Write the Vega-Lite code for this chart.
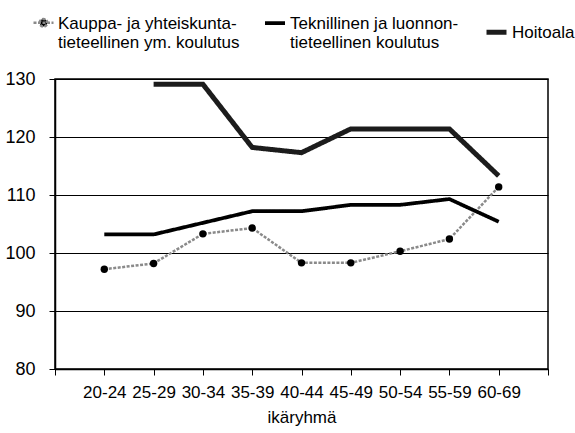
{
  "$schema": "https://vega.github.io/schema/vega-lite/v6.json",
  "width": 493,
  "height": 290,
  "autosize": {"type": "none"},
  "padding": {"left": 55, "top": 79, "right": 27, "bottom": 64},
  "background": "white",
  "config": {
    "font": "Liberation Sans",
    "view": {"stroke": "black", "strokeWidth": 1.5},
    "axis": {"domainColor": "black", "tickColor": "black", "labelColor": "black", "titleColor": "black", "labelFont": "Liberation Sans", "titleFont": "Liberation Sans"},
    "legend": {"labelFont": "Liberation Sans", "labelColor": "black"}
  },
  "data": {
    "values": [
      {"series": "Kauppa- ja yhteiskuntatieteellinen ym. koulutus", "age": "20-24", "value": 97.2},
      {"series": "Kauppa- ja yhteiskuntatieteellinen ym. koulutus", "age": "25-29", "value": 98.2},
      {"series": "Kauppa- ja yhteiskuntatieteellinen ym. koulutus", "age": "30-34", "value": 103.3},
      {"series": "Kauppa- ja yhteiskuntatieteellinen ym. koulutus", "age": "35-39", "value": 104.3},
      {"series": "Kauppa- ja yhteiskuntatieteellinen ym. koulutus", "age": "40-44", "value": 98.3},
      {"series": "Kauppa- ja yhteiskuntatieteellinen ym. koulutus", "age": "45-49", "value": 98.3},
      {"series": "Kauppa- ja yhteiskuntatieteellinen ym. koulutus", "age": "50-54", "value": 100.3},
      {"series": "Kauppa- ja yhteiskuntatieteellinen ym. koulutus", "age": "55-59", "value": 102.4},
      {"series": "Kauppa- ja yhteiskuntatieteellinen ym. koulutus", "age": "60-69", "value": 111.4},
      {"series": "Teknillinen ja luonnontieteellinen koulutus", "age": "20-24", "value": 103.2},
      {"series": "Teknillinen ja luonnontieteellinen koulutus", "age": "25-29", "value": 103.2},
      {"series": "Teknillinen ja luonnontieteellinen koulutus", "age": "30-34", "value": 105.2},
      {"series": "Teknillinen ja luonnontieteellinen koulutus", "age": "35-39", "value": 107.2},
      {"series": "Teknillinen ja luonnontieteellinen koulutus", "age": "40-44", "value": 107.2},
      {"series": "Teknillinen ja luonnontieteellinen koulutus", "age": "45-49", "value": 108.3},
      {"series": "Teknillinen ja luonnontieteellinen koulutus", "age": "50-54", "value": 108.3},
      {"series": "Teknillinen ja luonnontieteellinen koulutus", "age": "55-59", "value": 109.3},
      {"series": "Teknillinen ja luonnontieteellinen koulutus", "age": "60-69", "value": 105.4},
      {"series": "Hoitoala", "age": "25-29", "value": 129.1},
      {"series": "Hoitoala", "age": "30-34", "value": 129.1},
      {"series": "Hoitoala", "age": "35-39", "value": 118.2},
      {"series": "Hoitoala", "age": "40-44", "value": 117.3},
      {"series": "Hoitoala", "age": "45-49", "value": 121.4},
      {"series": "Hoitoala", "age": "50-54", "value": 121.4},
      {"series": "Hoitoala", "age": "55-59", "value": 121.4},
      {"series": "Hoitoala", "age": "60-69", "value": 113.3}
    ]
  },
  "encoding": {
    "x": {
      "field": "age", "type": "ordinal",
      "scale": {"type": "point", "padding": 0, "domain": ["", "20-24", "25-29", "30-34", "35-39", "40-44", "45-49", "50-54", "55-59", "60-69", " "]},
      "axis": {"title": "ikäryhmä", "labelAngle": 0, "labelFontSize": 17, "titleFontSize": 17, "titleFontWeight": "normal", "tickSize": 6, "labelPadding": 9, "titlePadding": 9, "domainWidth": 1.5, "labelOverlap": false, "labelBound": false}
    },
    "y": {
      "field": "value", "type": "quantitative",
      "scale": {"domain": [80, 130], "nice": false, "zero": false},
      "axis": {"title": null, "values": [80, 90, 100, 110, 120, 130], "grid": true, "gridColor": "black", "gridWidth": 1, "gridOpacity": 1, "labelFontSize": 18, "tickSize": 6, "labelPadding": 14, "domainWidth": 1.5}
    }
  },
  "layer": [
    {
      "mark": {"type": "line", "strokeCap": "butt", "strokeJoin": "miter"},
      "encoding": {
        "color": {
          "field": "series", "type": "nominal",
          "scale": {"domain": ["Kauppa- ja yhteiskuntatieteellinen ym. koulutus", "Teknillinen ja luonnontieteellinen koulutus", "Hoitoala"], "range": ["#8a8a8a", "#000000", "#1c1c1c"]},
          "legend": {
            "orient": "none", "legendX": -23, "legendY": -68, "direction": "horizontal", "title": null,
            "labelFontSize": 17, "symbolType": "stroke", "symbolSize": 400, "columnPadding": 17, "labelOffset": 3,
            "labelBaseline": "alphabetic", "labelLimit": 300,
            "labelExpr": "datum.value === 'Hoitoala' ? 'Hoitoala' : (indexof(datum.value, 'Kauppa') === 0 ? ['Kauppa- ja yhteiskunta-', 'tieteellinen ym. koulutus'] : ['Teknillinen ja luonnon-', 'tieteellinen koulutus'])",
            "encode": {
              "labels": {"update": {"dy": {"value": 6}}},
              "symbols": {"update": {
                "shape": {"signal": "indexof(datum.value, 'Kauppa') === 0 ? 'M-1,0H1M-0.38,0A0.38,0.38,0,1,1,0.38,0A0.38,0.38,0,1,1,-0.38,0' : 'stroke'"},
                "fill": {"signal": "indexof(datum.value, 'Kauppa') === 0 ? 'black' : 'transparent'"}
              }}
            }
          }
        },
        "strokeWidth": {
          "field": "series", "type": "ordinal",
          "scale": {"domain": ["Kauppa- ja yhteiskuntatieteellinen ym. koulutus", "Teknillinen ja luonnontieteellinen koulutus", "Hoitoala"], "range": [2.5, 5, 3.5]}
        },
        "strokeDash": {
          "field": "series", "type": "nominal",
          "scale": {"domain": ["Kauppa- ja yhteiskuntatieteellinen ym. koulutus", "Teknillinen ja luonnontieteellinen koulutus", "Hoitoala"], "range": [[3, 1.5], [1, 0], [1, 0]]}
        }
      }
    },
    {
      "transform": [{"filter": "indexof(datum.series, 'Kauppa') === 0"}],
      "mark": {"type": "point", "filled": true, "color": "black", "size": 55, "opacity": 1},
      "encoding": {}
    }
  ]
}
